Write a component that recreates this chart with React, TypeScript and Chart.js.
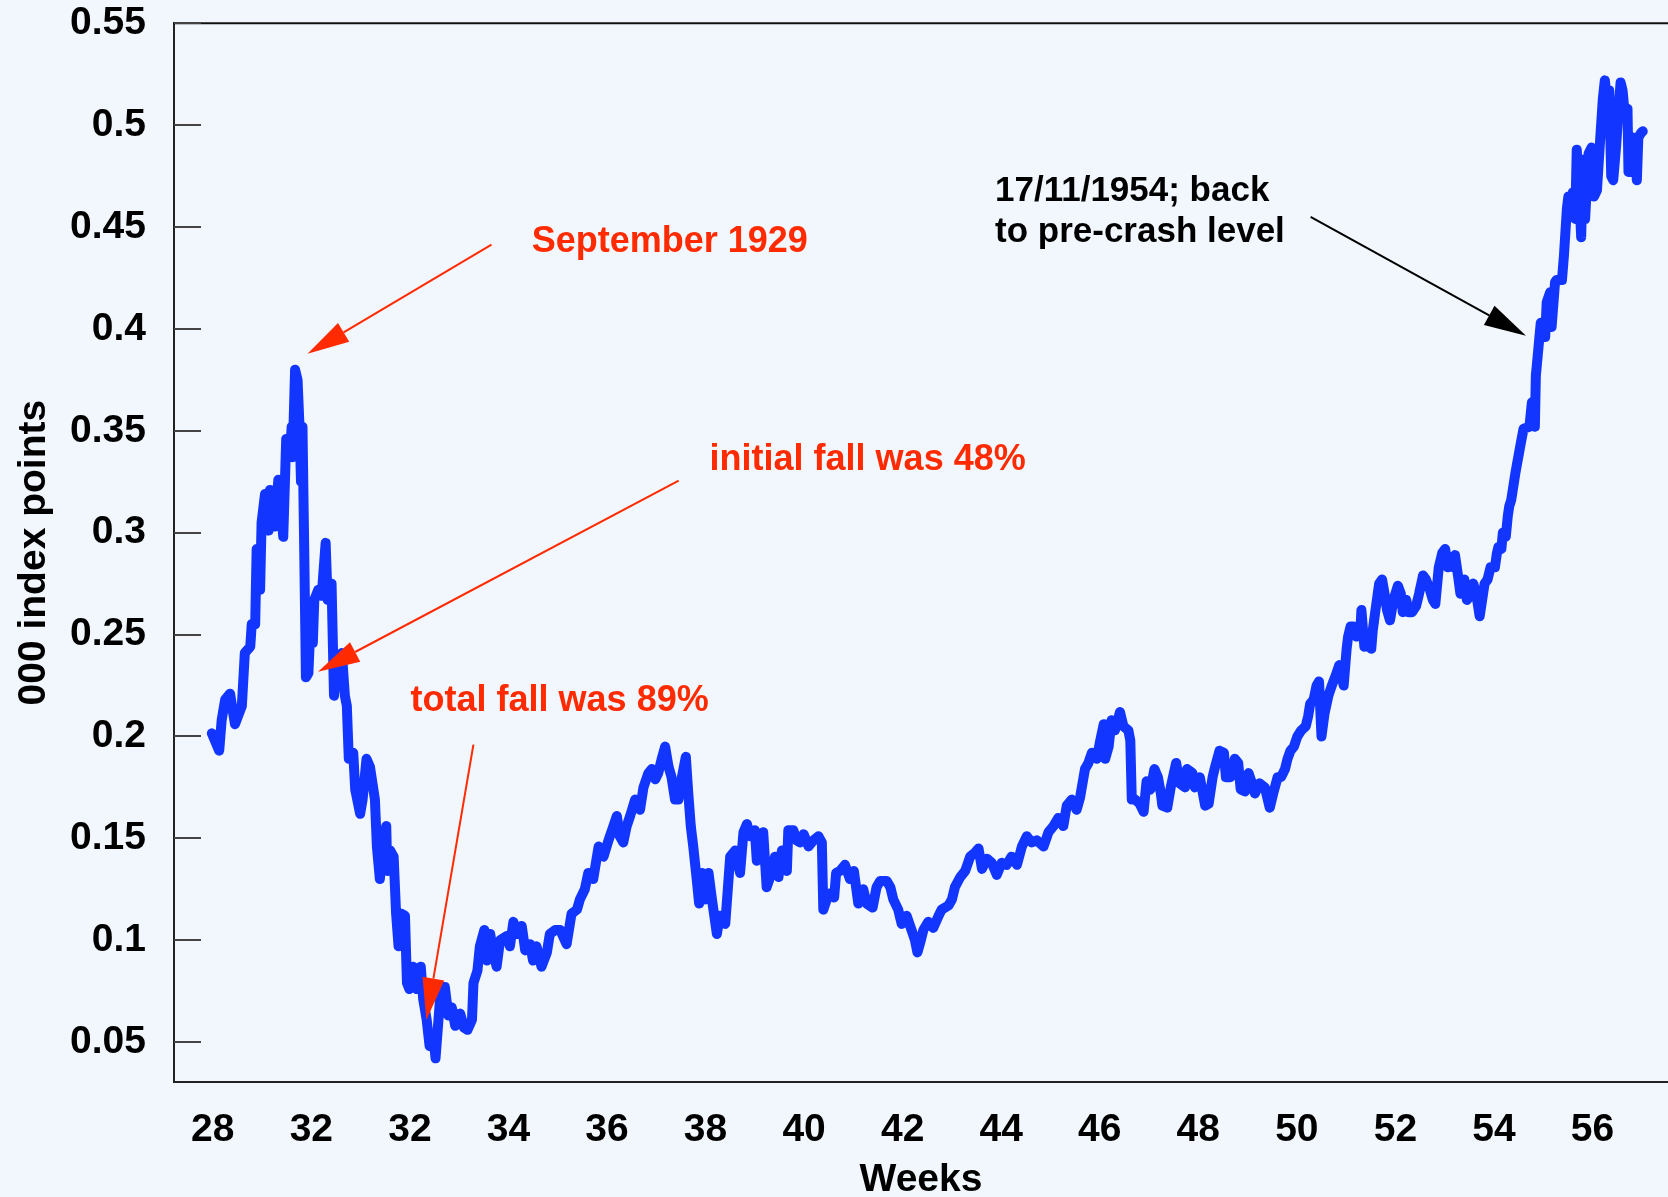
import { useEffect, useRef } from 'react';
import { Chart, registerables } from 'chart.js';

Chart.register(...registerables);

// ---- axis ticks ----
const X_TICK_VALUES = [28, 30, 32, 34, 36, 38, 40, 42, 44, 46, 48, 50, 52, 54, 56];
const X_TICK_LABELS = ['28', '32', '32', '34', '36', '38', '40', '42', '44', '46', '48', '50', '52', '54', '56'];
const Y_TICK_VALUES = [0.05, 0.1, 0.15, 0.2, 0.25, 0.3, 0.35, 0.4, 0.45, 0.5, 0.55];
const Y_TICK_LABELS = ['0.05', '0.1', '0.15', '0.2', '0.25', '0.3', '0.35', '0.4', '0.45', '0.5', '0.55'];
const X_MIN = 27.2126;
const X_MAX = 57.532;
const Y_MIN = 0.0304;
const Y_MAX = 0.55;

// ---- series (position along the week axis, index value in '000 points) ----
const WEEKS = [
  27.98, 28.13, 28.18, 28.25, 28.35, 28.45, 28.59, 28.65, 28.76, 28.79, 28.86, 28.89, 28.96, 28.99, 29.06, 29.13,
  29.16, 29.26, 29.33, 29.43, 29.49, 29.57, 29.6, 29.62, 29.67, 29.72, 29.76, 29.79, 29.82, 29.85, 29.89, 29.94,
  29.99, 30.03, 30.06, 30.14, 30.21, 30.29, 30.33, 30.41, 30.46, 30.52, 30.62, 30.68, 30.72, 30.76, 30.85, 30.89,
  30.99, 31.04, 31.12, 31.19, 31.29, 31.33, 31.39, 31.46, 31.52, 31.54, 31.6, 31.67, 31.72, 31.77, 31.83, 31.9,
  31.94, 31.99, 32.06, 32.14, 32.22, 32.27, 32.34, 32.4, 32.48, 32.52, 32.58, 32.63, 32.71, 32.78, 32.85, 32.92,
  33.02, 33.1, 33.17, 33.26, 33.29, 33.37, 33.42, 33.51, 33.56, 33.63, 33.69, 33.76, 33.83, 33.96, 34.03, 34.1,
  34.17, 34.27, 34.34, 34.44, 34.5, 34.57, 34.67, 34.78, 34.84, 34.95, 35.05, 35.18, 35.28, 35.39, 35.45, 35.55,
  35.62, 35.72, 35.83, 35.93, 36.03, 36.13, 36.2, 36.26, 36.33, 36.4, 36.47, 36.57, 36.67, 36.74, 36.84, 36.91,
  36.98, 37.04, 37.11, 37.18, 37.25, 37.31, 37.38, 37.45, 37.52, 37.6, 37.65, 37.7, 37.75, 37.82, 37.87, 37.93,
  37.99, 38.06, 38.13, 38.23, 38.29, 38.4, 38.5, 38.6, 38.7, 38.77, 38.84, 38.9, 39.0, 39.04, 39.11, 39.17,
  39.24, 39.34, 39.41, 39.48, 39.55, 39.65, 39.68, 39.78, 39.85, 39.92, 39.99, 40.09, 40.19, 40.29, 40.36, 40.39,
  40.46, 40.53, 40.61, 40.65, 40.73, 40.83, 40.93, 41.01, 41.1, 41.2, 41.27, 41.39, 41.47, 41.54, 41.68, 41.75,
  41.81, 41.91, 41.98, 42.08, 42.18, 42.25, 42.3, 42.37, 42.42, 42.52, 42.62, 42.73, 42.79, 42.93, 43.0, 43.06,
  43.17, 43.27, 43.37, 43.47, 43.54, 43.61, 43.71, 43.81, 43.91, 44.01, 44.11, 44.21, 44.32, 44.42, 44.52, 44.62,
  44.72, 44.86, 44.96, 45.06, 45.16, 45.26, 45.33, 45.43, 45.53, 45.6, 45.7, 45.77, 45.84, 45.94, 46.01, 46.08,
  46.11, 46.18, 46.24, 46.31, 46.41, 46.48, 46.58, 46.62, 46.65, 46.72, 46.81, 46.89, 46.95, 47.03, 47.11, 47.18,
  47.24, 47.27, 47.37, 47.44, 47.55, 47.62, 47.73, 47.77, 47.88, 47.93, 48.03, 48.14, 48.21, 48.29, 48.34, 48.43,
  48.52, 48.56, 48.65, 48.74, 48.81, 48.86, 48.95, 49.02, 49.09, 49.15, 49.24, 49.35, 49.45, 49.52, 49.61, 49.68,
  49.76, 49.81, 49.87, 49.94, 50.01, 50.09, 50.18, 50.23, 50.27, 50.34, 50.4, 50.45, 50.5, 50.56, 50.64, 50.71,
  50.79, 50.86, 50.95, 51.01, 51.04, 51.09, 51.15, 51.21, 51.29, 51.31, 51.37, 51.45, 51.51, 51.54, 51.59, 51.67,
  51.73, 51.78, 51.83, 51.89, 51.96, 52.05, 52.11, 52.15, 52.22, 52.27, 52.34, 52.42, 52.48, 52.56, 52.62, 52.7,
  52.76, 52.81, 52.88, 52.95, 53.01, 53.06, 53.12, 53.17, 53.21, 53.27, 53.32, 53.4, 53.45, 53.52, 53.58, 53.64,
  53.71, 53.76, 53.81, 53.87, 53.93, 54.02, 54.06, 54.09, 54.15, 54.18, 54.24, 54.28, 54.31, 54.35, 54.44, 54.53,
  54.6, 54.72, 54.77, 54.83, 54.85, 54.9, 54.95, 55.04, 55.07, 55.14, 55.17, 55.24, 55.27, 55.33, 55.38, 55.42,
  55.48, 55.51, 55.56, 55.6, 55.65, 55.68, 55.73, 55.77, 55.81, 55.85, 55.92, 55.98, 56.03, 56.09, 56.15, 56.21,
  56.25, 56.3, 56.34, 56.38, 56.42, 56.48, 56.53, 56.57, 56.61, 56.66, 56.71, 56.73, 56.76, 56.82, 56.86, 56.9,
  56.93, 56.98, 57.02,
];
const INDEX_VALUES = [
  0.2015, 0.193, 0.208, 0.218, 0.221, 0.206, 0.215, 0.241, 0.244, 0.255, 0.255, 0.292, 0.272, 0.305, 0.319, 0.301,
  0.321, 0.303, 0.326, 0.298, 0.346, 0.339, 0.352, 0.337, 0.38, 0.375, 0.352, 0.325, 0.352, 0.301, 0.229, 0.231,
  0.26, 0.246, 0.267, 0.272, 0.269, 0.295, 0.267, 0.275, 0.22, 0.236, 0.241, 0.22, 0.215, 0.189, 0.192, 0.174,
  0.162, 0.169, 0.189, 0.185, 0.169, 0.146, 0.13, 0.149, 0.156, 0.134, 0.144, 0.141, 0.113, 0.097, 0.113, 0.112,
  0.079, 0.076, 0.087, 0.076, 0.087, 0.071, 0.061, 0.048, 0.053, 0.042, 0.061, 0.077, 0.077, 0.063, 0.067, 0.058,
  0.064, 0.057, 0.056, 0.061, 0.079, 0.085, 0.097, 0.105, 0.09, 0.103, 0.094, 0.087, 0.1, 0.102, 0.097, 0.109,
  0.103, 0.107, 0.095, 0.098, 0.09, 0.097, 0.087, 0.094, 0.103, 0.105, 0.105, 0.098, 0.113, 0.115, 0.12, 0.125,
  0.133, 0.13, 0.146, 0.141, 0.149, 0.156, 0.161, 0.151, 0.148, 0.156, 0.161, 0.169, 0.164, 0.175, 0.182, 0.184,
  0.179, 0.182, 0.189, 0.195, 0.185, 0.18, 0.169, 0.169, 0.18, 0.19, 0.172, 0.156, 0.146, 0.13, 0.118, 0.133,
  0.12, 0.133, 0.12, 0.103, 0.112, 0.108, 0.141, 0.144, 0.133, 0.153, 0.157, 0.151, 0.154, 0.139, 0.141, 0.153,
  0.126, 0.133, 0.141, 0.131, 0.144, 0.134, 0.154, 0.154, 0.149, 0.148, 0.152, 0.146, 0.149, 0.151, 0.148, 0.115,
  0.12, 0.123, 0.121, 0.133, 0.134, 0.137, 0.13, 0.134, 0.118, 0.125, 0.118, 0.116, 0.126, 0.129, 0.129, 0.126,
  0.12, 0.115, 0.108, 0.112, 0.105, 0.1, 0.094, 0.1, 0.105, 0.109, 0.106, 0.112, 0.115, 0.117, 0.12, 0.126,
  0.131, 0.134, 0.141, 0.143, 0.145, 0.135, 0.14, 0.138, 0.132, 0.138, 0.137, 0.141, 0.137, 0.146, 0.151, 0.148,
  0.149, 0.146, 0.153, 0.156, 0.16, 0.156, 0.166, 0.169, 0.164, 0.17, 0.184, 0.187, 0.192, 0.189, 0.198, 0.206,
  0.189, 0.195, 0.208, 0.203, 0.212, 0.205, 0.203, 0.198, 0.169, 0.169, 0.167, 0.163, 0.178, 0.174, 0.184, 0.18,
  0.172, 0.166, 0.165, 0.175, 0.187, 0.177, 0.175, 0.184, 0.182, 0.175, 0.18, 0.166, 0.167, 0.18, 0.185, 0.193,
  0.192, 0.18, 0.18, 0.189, 0.187, 0.174, 0.173, 0.182, 0.177, 0.172, 0.177, 0.175, 0.165, 0.172, 0.18, 0.18,
  0.184, 0.189, 0.193, 0.195, 0.2, 0.203, 0.205, 0.21, 0.216, 0.218, 0.225, 0.227, 0.2, 0.211, 0.22, 0.225,
  0.23, 0.235, 0.225, 0.243, 0.249, 0.254, 0.254, 0.249, 0.252, 0.262, 0.244, 0.247, 0.243, 0.252, 0.261, 0.275,
  0.277, 0.27, 0.262, 0.257, 0.267, 0.274, 0.27, 0.261, 0.267, 0.261, 0.261, 0.264, 0.27, 0.279, 0.277, 0.272,
  0.267, 0.265, 0.283, 0.29, 0.292, 0.283, 0.288, 0.283, 0.289, 0.279, 0.27, 0.277, 0.267, 0.269, 0.275, 0.27,
  0.259, 0.267, 0.275, 0.277, 0.283, 0.283, 0.29, 0.293, 0.292, 0.3, 0.298, 0.308, 0.313, 0.316, 0.33, 0.342,
  0.351, 0.352, 0.364, 0.352, 0.377, 0.39, 0.403, 0.396, 0.413, 0.418, 0.401, 0.423, 0.424, 0.424, 0.424, 0.436,
  0.459, 0.465, 0.455, 0.467, 0.454, 0.488, 0.467, 0.445, 0.483, 0.454, 0.486, 0.489, 0.465, 0.468, 0.491, 0.513,
  0.522, 0.511, 0.517, 0.475, 0.473, 0.49, 0.508, 0.521, 0.517, 0.504, 0.508, 0.477, 0.477, 0.494, 0.488, 0.473,
  0.494, 0.496, 0.497,
];

// ---- annotations (anchored in data units) ----
const RED = '#FF2A00';
const NOTE_TEXTS = ['September 1929', 'initial fall was 48%', 'total fall was 89%', '17/11/1954; back', 'to pre-crash level'];
const NOTE_X = [34.472, 38.082, 32.014, 43.874, 43.874];
const NOTE_Y = [0.438, 0.3307, 0.2127, 0.463, 0.4429];
const NOTE_COLORS = [RED, RED, RED, '#000000', '#000000'];
const NOTE_SIZES = [36, 36, 36, 35, 35];
const ARROW_FROM_X = [33.656, 37.455, 33.289, 50.279];
const ARROW_FROM_Y = [0.4414, 0.3255, 0.196, 0.455];
const ARROW_TO_X = [29.922, 30.135, 32.333, 54.65];
const ARROW_TO_Y = [0.3878, 0.2318, 0.0608, 0.3967];
const ARROW_COLORS = [RED, RED, RED, '#000000'];

const FONT_FAMILY = '"Liberation Sans", Arial, Helvetica, sans-serif';
const BG = '#F1F7FC';

const framePlugin = {
  id: 'frame',
  beforeDatasetsDraw(chart: any) {
    const { ctx, chartArea, scales } = chart;
    const y = scales.y;
    ctx.save();
    // top border
    ctx.strokeStyle = '#111111';
    ctx.lineWidth = 2;
    ctx.beginPath();
    ctx.moveTo(chartArea.left - 1, chartArea.top);
    ctx.lineTo(chartArea.right, chartArea.top);
    ctx.stroke();
    // inward tick marks on the value axis
    ctx.strokeStyle = '#444444';
    ctx.lineWidth = 2;
    y.ticks.forEach((t: any) => {
      const py = Math.round(y.getPixelForValue(t.value));
      ctx.beginPath();
      ctx.moveTo(chartArea.left, py);
      ctx.lineTo(chartArea.left + 27, py);
      ctx.stroke();
    });
    ctx.restore();
  },
};

const notesPlugin = {
  id: 'notes',
  afterDatasetsDraw(chart: any) {
    const { ctx, scales } = chart;
    const xs = scales.x;
    const ys = scales.y;
    ctx.save();
    ARROW_FROM_X.forEach((_, i) => {
      const x1 = xs.getPixelForValue(ARROW_FROM_X[i]);
      const y1 = ys.getPixelForValue(ARROW_FROM_Y[i]);
      const x2 = xs.getPixelForValue(ARROW_TO_X[i]);
      const y2 = ys.getPixelForValue(ARROW_TO_Y[i]);
      const len = Math.hypot(x2 - x1, y2 - y1);
      const ux = (x2 - x1) / len;
      const uy = (y2 - y1) / len;
      const headLen = 42;
      const headHalf = 11;
      const bx = x2 - ux * headLen;
      const by = y2 - uy * headLen;
      ctx.strokeStyle = ARROW_COLORS[i];
      ctx.fillStyle = ARROW_COLORS[i];
      ctx.lineWidth = 2;
      ctx.beginPath();
      ctx.moveTo(x1, y1);
      ctx.lineTo(bx, by);
      ctx.stroke();
      ctx.beginPath();
      ctx.moveTo(x2, y2);
      ctx.lineTo(bx - uy * headHalf, by + ux * headHalf);
      ctx.lineTo(bx + uy * headHalf, by - ux * headHalf);
      ctx.closePath();
      ctx.fill();
    });
    ctx.textAlign = 'left';
    ctx.textBaseline = 'alphabetic';
    NOTE_TEXTS.forEach((text, i) => {
      ctx.fillStyle = NOTE_COLORS[i];
      ctx.font = `bold ${NOTE_SIZES[i]}px ${FONT_FAMILY}`;
      ctx.fillText(text, xs.getPixelForValue(NOTE_X[i]), ys.getPixelForValue(NOTE_Y[i]));
    });
    ctx.restore();
  },
};

export default function App() {
  const canvasRef = useRef<HTMLCanvasElement | null>(null);

  useEffect(() => {
    const canvas = canvasRef.current;
    if (!canvas) return;
    const axisFont = { family: FONT_FAMILY, size: 39, weight: 'bold' as const };
    const chart = new Chart(canvas, {
      type: 'line',
      data: {
        datasets: [
          {
            label: 'Index',
            data: WEEKS.map((w, i) => ({ x: w, y: INDEX_VALUES[i] })),
            borderColor: '#1236FF',
            borderWidth: 10,
            pointRadius: 0,
            tension: 0,
            borderJoinStyle: 'round',
            borderCapStyle: 'round',
          },
        ],
      },
      options: {
        animation: false,
        responsive: false,
        devicePixelRatio: 1,
        layout: { padding: { top: 23.3, left: 0, right: 0, bottom: 0 } },
        plugins: { legend: { display: false }, tooltip: { enabled: false } },
        scales: {
          x: {
            type: 'linear',
            min: X_MIN,
            max: X_MAX,
            afterBuildTicks: (s: any) => {
              s.ticks = X_TICK_VALUES.map((v) => ({ value: v }));
            },
            afterFit: (s: any) => {
              s.height = 115;
              s.paddingLeft = 0;
              s.paddingRight = 0;
            },
            ticks: {
              callback: (_v: any, i: number) => X_TICK_LABELS[i],
              font: axisFont,
              color: '#000000',
              padding: 25,
              autoSkip: false,
              maxRotation: 0,
            },
            grid: { display: false, drawTicks: false },
            border: { display: true, color: '#222222', width: 2 },
            title: {
              display: true,
              text: 'Weeks',
              color: '#000000',
              font: { ...axisFont, lineHeight: 1 },
              padding: { top: 0, bottom: -3 },
            },
          },
          y: {
            type: 'linear',
            min: Y_MIN,
            max: Y_MAX,
            afterBuildTicks: (s: any) => {
              s.ticks = Y_TICK_VALUES.map((v) => ({ value: v }));
            },
            afterFit: (s: any) => {
              s.width = 174;
              s.paddingTop = 0;
              s.paddingBottom = 0;
            },
            ticks: {
              callback: (_v: any, i: number) => Y_TICK_LABELS[i],
              font: axisFont,
              color: '#000000',
              padding: 28,
            },
            grid: { display: false, drawTicks: false },
            border: { display: true, color: '#222222', width: 2 },
            title: {
              display: true,
              text: '000 index points',
              color: '#000000',
              font: { ...axisFont, lineHeight: 1 },
              padding: { top: 15, bottom: 0 },
            },
          },
        },
      },
      plugins: [framePlugin, notesPlugin],
    } as any);
    return () => chart.destroy();
  }, []);

  return (
    <div style={{ position: 'fixed', left: 0, top: 0, width: 1668, height: 1197, background: BG, overflow: 'hidden' }}>
      <canvas ref={canvasRef} width={1668} height={1197} style={{ display: 'block', width: 1668, height: 1197 }} />
    </div>
  );
}
